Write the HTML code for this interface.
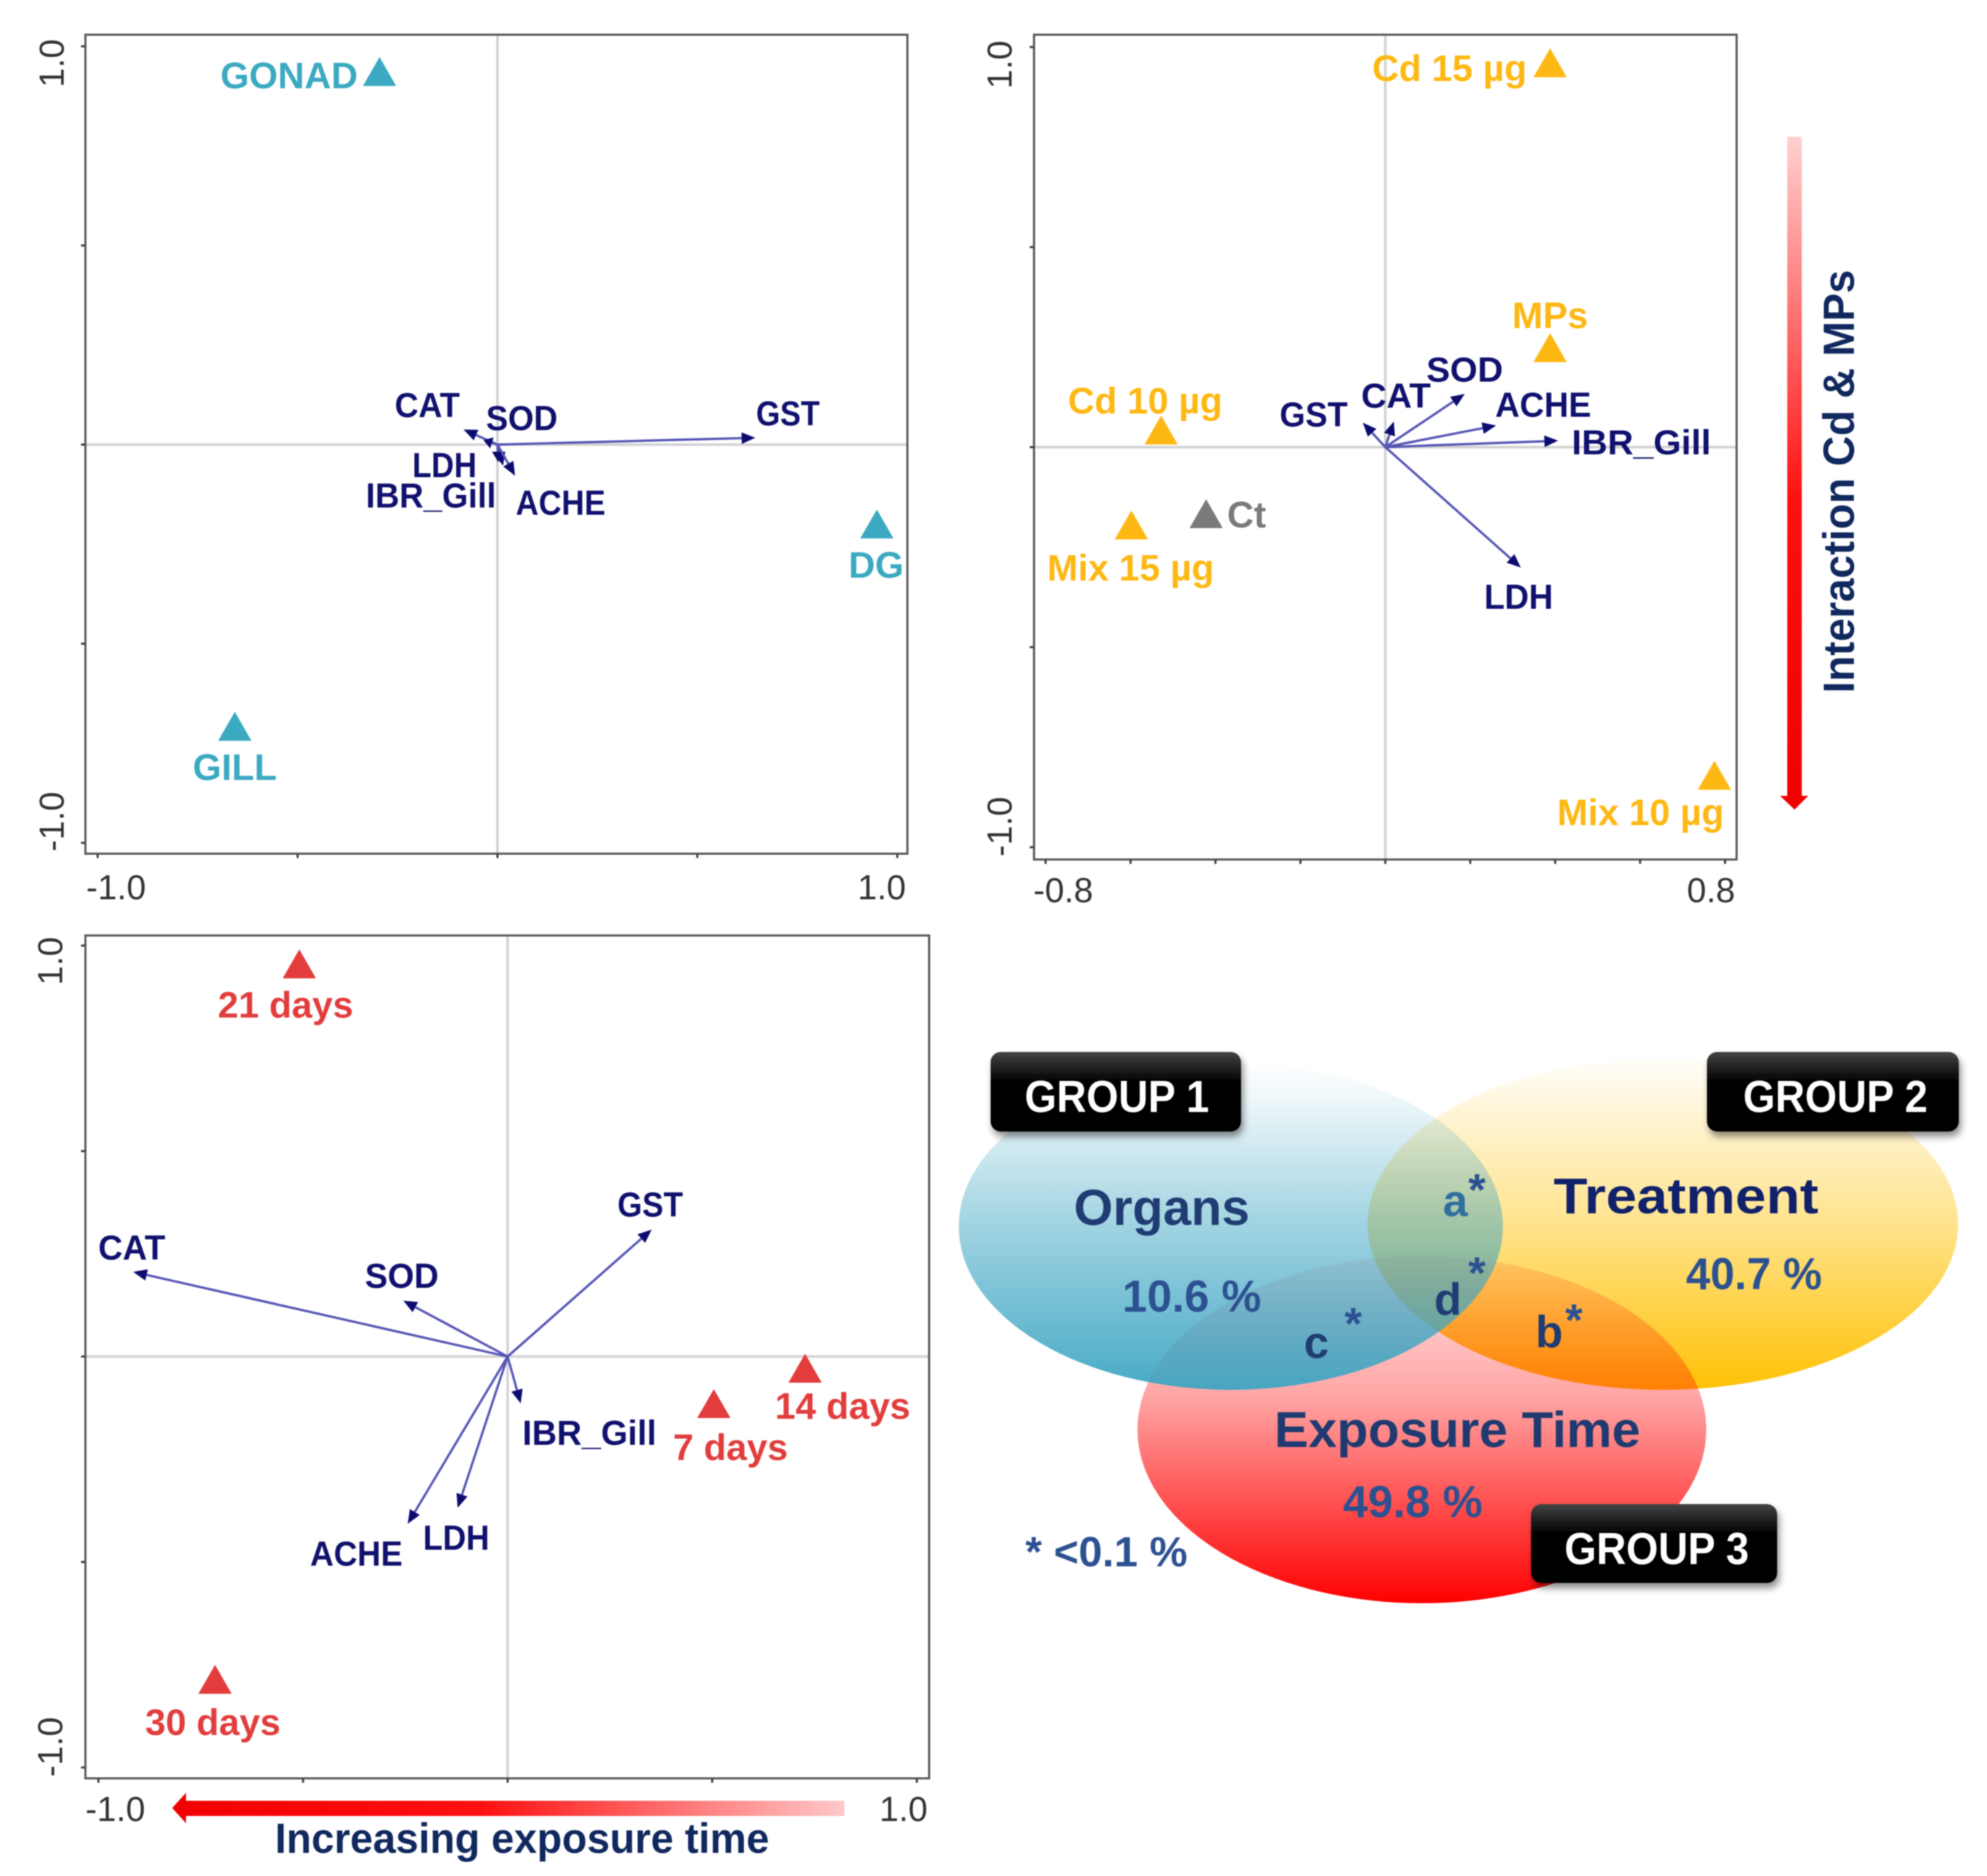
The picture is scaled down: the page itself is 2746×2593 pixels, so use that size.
<!DOCTYPE html>
<html lang="en">
<head>
<meta charset="utf-8">
<title>Redundancy analysis biplots and variance partitioning</title>
<style>
html,body{margin:0;padding:0;background:#fff;}
svg{display:block;filter:blur(0.7px);}
text{font-family:"Liberation Sans",sans-serif;}
.b{font-weight:bold;}
</style>
</head>
<body>
<svg id="chart" xmlns="http://www.w3.org/2000/svg" width="2746" height="2593" viewBox="0 0 2746 2593">
  <defs>
    <linearGradient id="blueGrad" x1="0" y1="0" x2="0" y2="1">
      <stop offset="0" stop-color="#3fa6c3" stop-opacity="0"/>
      <stop offset="0.12" stop-color="#3fa6c3" stop-opacity="0.1"/>
      <stop offset="0.5" stop-color="#3fa6c3" stop-opacity="0.5"/>
      <stop offset="1" stop-color="#3fa6c3" stop-opacity="0.96"/>
    </linearGradient>
    <linearGradient id="orangeGrad" x1="0" y1="0" x2="0" y2="1">
      <stop offset="0" stop-color="#ffc000" stop-opacity="0.02"/>
      <stop offset="0.5" stop-color="#ffc000" stop-opacity="0.45"/>
      <stop offset="1" stop-color="#ffc000" stop-opacity="0.98"/>
    </linearGradient>
    <linearGradient id="redGrad" x1="0" y1="0" x2="0" y2="1">
      <stop offset="0" stop-color="#ff0000" stop-opacity="0.1"/>
      <stop offset="0.4" stop-color="#ff0000" stop-opacity="0.35"/>
      <stop offset="1" stop-color="#ff0000" stop-opacity="1"/>
    </linearGradient>
    <linearGradient id="boxGrad" x1="0" y1="0" x2="0" y2="1">
      <stop offset="0" stop-color="#444"/>
      <stop offset="0.35" stop-color="#050505"/>
      <stop offset="1" stop-color="#000"/>
    </linearGradient>
    <linearGradient id="vArrowGrad" x1="0" y1="0" x2="0" y2="1">
      <stop offset="0" stop-color="#ffd0d0"/>
      <stop offset="0.55" stop-color="#ff1010"/>
      <stop offset="1" stop-color="#f00000"/>
    </linearGradient>
    <linearGradient id="hArrowGrad" x1="1" y1="0" x2="0" y2="0">
      <stop offset="0" stop-color="#ffc8c8"/>
      <stop offset="0.55" stop-color="#ff1010"/>
      <stop offset="1" stop-color="#f00000"/>
    </linearGradient>
    <filter id="boxShadow" x="-10%" y="-15%" width="120%" height="140%">
      <feDropShadow dx="3" dy="7" stdDeviation="5" flood-color="#000" flood-opacity="0.45"/>
    </filter>
  </defs>

  <g id="panels"></g>

  <g>
    <rect x="2470" y="189" width="20" height="912" fill="url(#vArrowGrad)"/>
    <polygon points="2460,1100 2499,1100 2480,1119" fill="#f00000"/>
  </g>
  <text class="b" transform="translate(2562,958) rotate(-90)" font-size="60" fill="#10285e" textLength="585" lengthAdjust="spacingAndGlyphs">Interaction Cd &amp; MPs</text>

  <g>
    <rect x="256" y="2489" width="911" height="21" fill="url(#hArrowGrad)"/>
    <polygon points="257,2478 257,2520 238,2499" fill="#f00000"/>
  </g>
  <text class="b" x="380" y="2561" font-size="58" fill="#10285e" textLength="683" lengthAdjust="spacingAndGlyphs">Increasing exposure time</text>

  <g>
    <ellipse cx="2298" cy="1692" rx="408" ry="229" fill="url(#orangeGrad)"/>
    <ellipse cx="1965" cy="1976" rx="393" ry="240" fill="url(#redGrad)"/>
    <ellipse cx="1701" cy="1695" rx="376" ry="226" fill="url(#blueGrad)"/>

    <text class="b" x="1484" y="1693" font-size="70" fill="#1f3c73" textLength="243" lengthAdjust="spacingAndGlyphs">Organs</text>
    <text class="b" x="2147" y="1677" font-size="70" fill="#10206a" textLength="366" lengthAdjust="spacingAndGlyphs">Treatment</text>
    <text class="b" x="1761" y="2000" font-size="70" fill="#1f3a70" textLength="506" lengthAdjust="spacingAndGlyphs">Exposure Time</text>
    <text class="b" x="1551" y="1813" font-size="62" fill="#2c5191" textLength="192" lengthAdjust="spacingAndGlyphs">10.6 %</text>
    <text class="b" x="2330" y="1782" font-size="62" fill="#2c5191" textLength="188" lengthAdjust="spacingAndGlyphs">40.7 %</text>
    <text class="b" x="1856" y="2097" font-size="62" fill="#2c5191" textLength="193" lengthAdjust="spacingAndGlyphs">49.8 %</text>
    <text class="b" x="1417" y="2165" font-size="58" fill="#2c5191" textLength="224" lengthAdjust="spacingAndGlyphs">* &lt;0.1 %</text>

    <text class="b" x="1994" y="1681" font-size="62" fill="#2f6f9e">a</text>
    <text class="b" x="2029" y="1666" font-size="62" fill="#2c5191">*</text>
    <text class="b" x="1982" y="1817" font-size="62" fill="#1f3c73">d</text>
    <text class="b" x="2029" y="1781" font-size="62" fill="#2c5191">*</text>
    <text class="b" x="2122" y="1862" font-size="62" fill="#1f3c73">b</text>
    <text class="b" x="2163" y="1846" font-size="62" fill="#2c5191">*</text>
    <text class="b" x="1802" y="1877" font-size="62" fill="#1f3c73">c</text>
    <text class="b" x="1858" y="1851" font-size="62" fill="#2c5191">*</text>

    <g>
      <rect x="1369" y="1454" width="346" height="110" rx="14" fill="url(#boxGrad)" filter="url(#boxShadow)"/>
      <text class="b" x="1416" y="1537" font-size="62" fill="#fff" textLength="255" lengthAdjust="spacingAndGlyphs">GROUP 1</text>
    </g>
    <g>
      <rect x="2359" y="1454" width="348" height="110" rx="14" fill="url(#boxGrad)" filter="url(#boxShadow)"/>
      <text class="b" x="2409" y="1537" font-size="62" fill="#fff" textLength="255" lengthAdjust="spacingAndGlyphs">GROUP 2</text>
    </g>
    <g>
      <rect x="2116" y="2079" width="340" height="109" rx="14" fill="url(#boxGrad)" filter="url(#boxShadow)"/>
      <text class="b" x="2162" y="2162" font-size="62" fill="#fff" textLength="255" lengthAdjust="spacingAndGlyphs">GROUP 3</text>
    </g>
  </g>
</svg>

<script>
// ---------- Panel A: organs ----------
const organSites = ["GONAD", "DG", "GILL"];
const organSiteX = [-0.295, 0.949, -0.657];
const organSiteY = [0.933, -0.203, -0.711];
const organVars = ["GST", "CAT", "SOD", "LDH", "IBR_Gill", "ACHE"];
const organVarX = [0.645, -0.085, -0.035, 0.014, 0.002, 0.044];
const organVarY = [0.017, 0.038, 0.011, -0.053, -0.044, -0.078];

// ---------- Panel B: treatment ----------
const treatSites = ["Cd 15 µg", "MPs", "Cd 10 µg", "Ct", "Mix 15 µg", "Mix 10 µg"];
const treatSiteX = [0.388, 0.388, -0.528, -0.422, -0.598, 0.775];
const treatSiteY = [0.957, 0.245, 0.039, -0.170, -0.198, -0.824];
const treatVars = ["GST", "CAT", "SOD", "ACHE", "IBR_Gill", "LDH"];
const treatVarX = [-0.053, 0.020, 0.187, 0.261, 0.407, 0.319];
const treatVarY = [0.061, 0.064, 0.133, 0.054, 0.016, -0.301];

// ---------- Panel C: exposure time ----------
const timeSites = ["21 days", "14 days", "7 days", "30 days"];
const timeSiteX = [-0.509, 0.727, 0.504, -0.715];
const timeSiteY = [0.952, -0.032, -0.118, -0.789];
const timeVars = ["CAT", "SOD", "GST", "IBR_Gill", "LDH", "ACHE"];
const timeVarX = [-0.915, -0.255, 0.352, 0.032, -0.122, -0.244];
const timeVarY = [0.206, 0.136, 0.309, -0.114, -0.368, -0.407];

// ---------- Axis ticks and printed labels ----------
const unitTicks = [-1, -0.5, 0, 0.5, 1];
const treatXTicks = [-0.8, -0.6, -0.4, -0.2, 0, 0.2, 0.4, 0.6, 0.8];
const unitTickLabels = ["-1.0", "1.0"];
const treatXTickLabels = ["-0.8", "0.8"];

// ---------- Layout (pixels) kept apart from the data ----------
const panelLayouts = {
  organs: {left:118, right:1254, top:48, bottom:1180, x0:135, x1:1240, y1:64, y0:1165,
           xLabelLeft:119, xLabelRight:1252, xLabelBase:1243, yLabelBase:88, yLabelTop:54, yLabelBottom:1177, widthScale:1},
  treatment: {left:1429, right:2400, top:48, bottom:1188, x0:1445, x1:2384, y1:65, y0:1171,
           xLabelLeft:1428, xLabelRight:2398, xLabelBase:1247, yLabelBase:1398, yLabelTop:56, yLabelBottom:1184, widthScale:1.07},
  time: {left:118, right:1284, top:1293, bottom:2458, x0:136, x1:1267, y1:1307, y0:2443,
           xLabelLeft:118, xLabelRight:1282, xLabelBase:2517, yLabelBase:86, yLabelTop:1295, yLabelBottom:2456, widthScale:1.03}
};
const siteLabelOffsets = {
  organs: {"GONAD":[-125,21], "DG":[-1,72], "GILL":[0,72]},
  treatment: {"Cd 15 µg":[-139,23], "MPs":[0,-29], "Cd 10 µg":[-22,-25], "Ct":[56,17], "Mix 15 µg":[-1,75], "Mix 10 µg":[-102,67]},
  time: {"21 days":[-19,72], "14 days":[52,68], "7 days":[23,76], "30 days":[-3,75]}
};
const varLabelOffsets = {
  organs: {"GST":[45,-17], "CAT":[-50,-17], "SOD":[53,-14], "LDH":[-81,16], "IBR_Gill":[-93,63], "ACHE":[63,54]},
  treatment: {"GST":[-68,5], "CAT":[3,-19], "SOD":[0,-17], "ACHE":[65,-12], "IBR_Gill":[115,19], "LDH":[-3,57]},
  time: {"CAT":[-2,-17], "SOD":[-2,-18], "GST":[-2,-18], "IBR_Gill":[95,57], "LDH":[-2,58], "ACHE":[-71,58]}
};
const varLabelWidths = {"CAT":90, "SOD":99, "GST":88, "LDH":89, "IBR_Gill":180, "ACHE":124};

const SVG_NS = "http://www.w3.org/2000/svg";
const panelsRoot = document.getElementById("panels");

function make(tag, parent, attrs, content) {
  const node = document.createElementNS(SVG_NS, tag);
  for (const key in attrs) node.setAttribute(key, attrs[key]);
  if (content !== undefined) node.textContent = content;
  parent.appendChild(node);
  return node;
}
function slug(s) {
  return s.toLowerCase().replace(/[^a-z0-9]+/g, "-").replace(/^-|-$/g, "");
}

function drawPanel(key, cfg) {
  const L = panelLayouts[key];
  const xMin = cfg.xTicks[0], xMax = cfg.xTicks[cfg.xTicks.length - 1];
  const yMin = cfg.yTicks[0], yMax = cfg.yTicks[cfg.yTicks.length - 1];
  const sx = v => L.x0 + (v - xMin) * (L.x1 - L.x0) / (xMax - xMin);
  const sy = v => L.y0 - (v - yMin) * (L.y0 - L.y1) / (yMax - yMin);

  const g = make("g", panelsRoot, {});
  
  

  const hZero = make("line", g, {x1:L.left, x2:L.right, y1:sy(0), y2:sy(0), stroke:"#d2d2d2", "stroke-width":3.5});
  
  
  const vZero = make("line", g, {x1:sx(0), x2:sx(0), y1:L.top, y2:L.bottom, stroke:"#d2d2d2", "stroke-width":3.5});
  
  

  const frame = make("rect", g, {x:L.left, y:L.top, width:L.right - L.left, height:L.bottom - L.top, fill:"none", stroke:"#5a5a5a", "stroke-width":3});
  
  

  cfg.xTicks.forEach(v => {
    const t = make("line", g, {x1:sx(v), x2:sx(v), y1:L.bottom, y2:L.bottom + 6, stroke:"#444", "stroke-width":3});
    
    
  });
  cfg.yTicks.forEach(v => {
    const t = make("line", g, {x1:L.left - 6, x2:L.left, y1:sy(v), y2:sy(v), stroke:"#444", "stroke-width":3});
    
    
  });

  const tickStyle = {"font-size":48, fill:"#333"};
  const xl0 = make("text", g, Object.assign({x:L.xLabelLeft, y:L.xLabelBase, "text-anchor":"start"}, tickStyle), cfg.xLabels[0]);
  
  
  const xl1 = make("text", g, Object.assign({x:L.xLabelRight, y:L.xLabelBase, "text-anchor":"end"}, tickStyle), cfg.xLabels[1]);
  
  
  const yl0 = make("text", g, Object.assign({transform:`translate(${L.yLabelBase},${L.yLabelBottom}) rotate(-90)`, "text-anchor":"start"}, tickStyle), cfg.yLabels[0]);
  
  
  const yl1 = make("text", g, Object.assign({transform:`translate(${L.yLabelBase},${L.yLabelTop}) rotate(-90)`, "text-anchor":"end"}, tickStyle), cfg.yLabels[1]);
  
  

  cfg.vars.forEach((name, i) => {
    const ox = sx(0), oy = sy(0), tx = sx(cfg.varX[i]), ty = sy(cfg.varY[i]);
    const len = Math.hypot(tx - ox, ty - oy) || 1;
    const ux = (tx - ox) / len, uy = (ty - oy) / len;
    const headLen = Math.min(19, len * 0.6), headHalf = 8;
    const bx = tx - ux * headLen, by = ty - uy * headLen;
    const line = make("line", g, {x1:ox, y1:oy, x2:bx, y2:by, stroke:"#5555b5", "stroke-width":3.2});
    
    
    const pts = [[tx, ty], [bx - uy * headHalf, by + ux * headHalf], [bx + uy * headHalf, by - ux * headHalf]];
    const head = make("polygon", g, {points:pts.map(p => p.join(",")).join(" "), fill:"#0c0c70"});
    
    
    const off = varLabelOffsets[key][name];
    const label = make("text", g, {x:tx + off[0], y:ty + off[1], "text-anchor":"middle", "font-size":48, "font-weight":"bold", fill:"#10106e",
      textLength:varLabelWidths[name] * L.widthScale, lengthAdjust:"spacingAndGlyphs"}, name);
    
    
  });

  cfg.sites.forEach((name, i) => {
    const px = sx(cfg.siteX[i]), py = sy(cfg.siteY[i]);
    const colour = name === "Ct" ? "#7a7a7a" : cfg.colour;
    const pts = [[px, py - 22], [px - 23, py + 18], [px + 23, py + 18]];
    const tri = make("polygon", g, {points:pts.map(p => p.join(",")).join(" "), fill:colour});
    
    
    const off = siteLabelOffsets[key][name];
    const label = make("text", g, {x:px + off[0], y:py + off[1], "text-anchor":"middle", "font-size":51, "font-weight":"bold", fill:colour}, name);
    
    
  });
}

drawPanel("organs", {sites:organSites, siteX:organSiteX, siteY:organSiteY, vars:organVars, varX:organVarX, varY:organVarY,
  xTicks:unitTicks, yTicks:unitTicks, xLabels:unitTickLabels, yLabels:unitTickLabels, colour:"#3aa9c1"});
drawPanel("treatment", {sites:treatSites, siteX:treatSiteX, siteY:treatSiteY, vars:treatVars, varX:treatVarX, varY:treatVarY,
  xTicks:treatXTicks, yTicks:unitTicks, xLabels:treatXTickLabels, yLabels:unitTickLabels, colour:"#fdb813"});
drawPanel("time", {sites:timeSites, siteX:timeSiteX, siteY:timeSiteY, vars:timeVars, varX:timeVarX, varY:timeVarY,
  xTicks:unitTicks, yTicks:unitTicks, xLabels:unitTickLabels, yLabels:unitTickLabels, colour:"#e23c3c"});
</script>
</body>
</html>
